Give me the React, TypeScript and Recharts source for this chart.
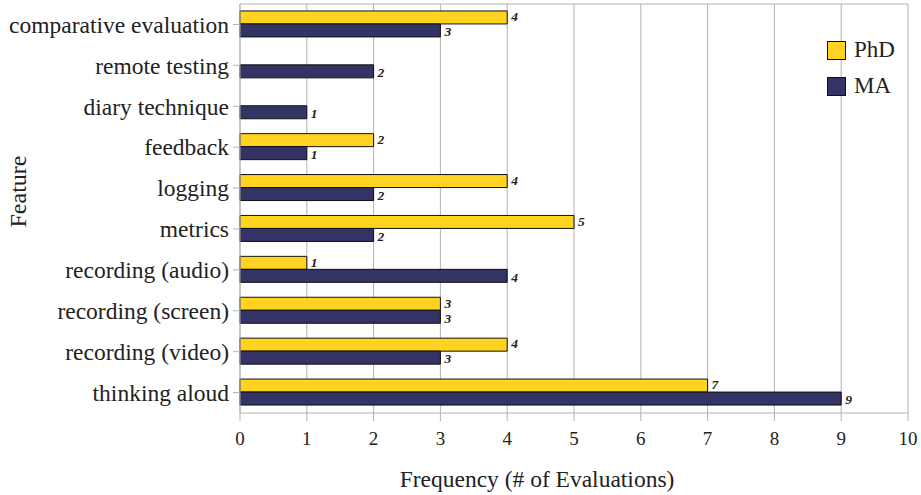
import { BarChart, Bar, XAxis, YAxis, CartesianGrid, LabelList } from "recharts";

const features = [
  "comparative evaluation",
  "remote testing",
  "diary technique",
  "feedback",
  "logging",
  "metrics",
  "recording (audio)",
  "recording (screen)",
  "recording (video)",
  "thinking aloud",
];
const phdCounts = [4, 0, 0, 2, 4, 5, 1, 3, 4, 7];
const maCounts = [3, 2, 1, 1, 2, 2, 4, 3, 3, 9];
const freqTicks = [0, 1, 2, 3, 4, 5, 6, 7, 8, 9, 10];

const PHD_COLOR = "#ffd320";
const MA_COLOR = "#333366";
const GRID = "#b3b3b3";
const FONT = "Liberation Serif, DejaVu Serif, serif";
const TEXT = "#222";

const data = features.map((name, i) => ({
  name,
  phd: phdCounts[i] || null,
  ma: maCounts[i] || null,
}));

const legendItems = [
  { label: "PhD", color: PHD_COLOR },
  { label: "MA", color: MA_COLOR },
];

// legend sits inside the plot, so it is laid over the chart instead of taking space
const ChartLegend = () => (
  <div
    style={{
      position: "absolute",
      left: 827,
      top: 32,
      fontFamily: FONT,
      fontSize: 23,
      color: TEXT,
    }}
  >
    {legendItems.map((it) => (
      <div key={it.label} style={{ display: "flex", alignItems: "center", height: 36 }}>
        <span
          style={{
            width: 17,
            height: 17,
            background: it.color,
            border: "1px solid #111",
            marginRight: 8,
          }}
        />
        {it.label}
      </div>
    ))}
  </div>
);

const FeatureTitle = (props: any) => {
  const vb = props.viewBox;
  const cy = vb.y + vb.height / 2 - 17;
  return (
    <text
      x={18}
      y={cy}
      transform={`rotate(-90, 18, ${cy})`}
      textAnchor="middle"
      dominantBaseline="central"
      fontFamily={FONT}
      fontSize={24}
      fill={TEXT}
    >
      Feature
    </text>
  );
};

// axis title is centred on the whole figure rather than on the plot area
const FrequencyTitle = (props: any) => {
  const vb = props.viewBox;
  return (
    <text
      x={vb.x + vb.width / 2 - 37}
      y={vb.y + vb.height - 8}
      textAnchor="middle"
      fontFamily={FONT}
      fontSize={23.5}
      fill={TEXT}
    >
      Frequency (# of Evaluations)
    </text>
  );
};

const valueLabel = {
  position: "right" as const,
  offset: 4,
  fontFamily: FONT,
  fontSize: 13.5,
  fontStyle: "italic",
  fontWeight: "bold",
  fill: TEXT,
};

export default function App() {
  return (
    <div style={{ position: "absolute", left: 0, top: 0, background: "#fff" }}>
      <BarChart
        width={921}
        height={495}
        data={data}
        layout="vertical"
        margin={{ top: 4, right: 13, bottom: 0, left: 0 }}
        barCategoryGap="17%"
        barGap={0}
      >
        <CartesianGrid
          stroke={GRID}
          horizontalCoordinatesGenerator={({ offset }: any) => [offset.top]}
        />
        <XAxis
          type="number"
          domain={[0, 10]}
          ticks={freqTicks}
          height={82}
          stroke={GRID}
          tickSize={8}
          tickMargin={11}
          tick={{ fill: TEXT, fontFamily: FONT, fontSize: 19 }}
          label={<FrequencyTitle />}
        />
        <YAxis
          type="category"
          dataKey="name"
          width={240}
          stroke={GRID}
          tickSize={7}
          tickMargin={4}
          interval={0}
          tick={{ fill: TEXT, fontFamily: FONT, fontSize: 23.5 }}
          label={<FeatureTitle />}
        />
        <Bar dataKey="phd" name="PhD" fill={PHD_COLOR} stroke="#111" strokeWidth={1} isAnimationActive={false}>
          <LabelList dataKey="phd" {...valueLabel} dy={-1} />
        </Bar>
        <Bar dataKey="ma" name="MA" fill={MA_COLOR} stroke="#111" strokeWidth={1} isAnimationActive={false}>
          <LabelList dataKey="ma" {...valueLabel} dy={1} />
        </Bar>
      </BarChart>
      <ChartLegend />
    </div>
  );
}
